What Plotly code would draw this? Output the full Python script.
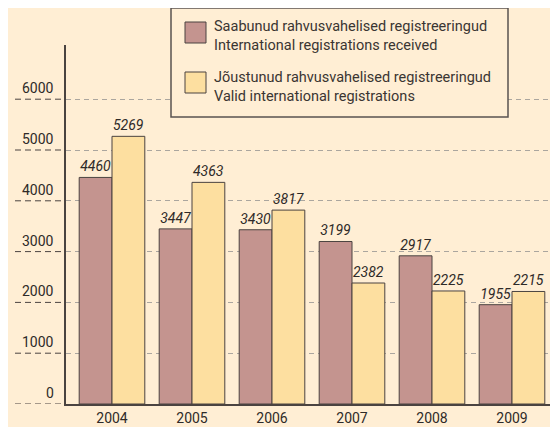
import plotly.graph_objects as go

years = ["2004", "2005", "2006", "2007", "2008", "2009"]
received = [4460, 3447, 3430, 3199, 2917, 1955]
valid = [5269, 4363, 3817, 2382, 2225, 2215]
name_received = ["Saabunud rahvusvahelised registreeringud", "International registrations received"]
name_valid = ["Jõustunud rahvusvahelised registreeringud", "Valid international registrations"]
y_ticks = [0, 1000, 2000, 3000, 4000, 5000, 6000]

BG = "#FFEED4"
RED = "#C4948F"
YEL = "#FDDFA0"
EDGE = "#4A4340"
TXT = "#2E2A28"
FONT = "Roboto, sans-serif"

# page has an 8px body margin: figure is 8px smaller than the window
W, H = 550, 419
L, R, T, B = 58, 0, 37, 23
pw = W - L - R
ph = H - T - B

def px_x(x):  # reference-window x -> paper
    return (x - 8 - L) / pw

def px_y(y):  # reference-window y -> paper
    return 1 - (y - 8 - T) / ph

fig = go.Figure()
fig.add_trace(go.Bar(
    x=years, y=received, name=" ".join(name_received),
    marker=dict(color=RED, line=dict(color=EDGE, width=1)),
    text=[str(v) for v in received], textposition="outside",
    textfont=dict(family=FONT, size=14, color=TXT, style="italic"),
    cliponaxis=False,
))
fig.add_trace(go.Bar(
    x=years, y=valid, name=" ".join(name_valid),
    marker=dict(color=YEL, line=dict(color=EDGE, width=1)),
    text=[str(v) for v in valid], textposition="outside",
    textfont=dict(family=FONT, size=14, color=TXT, style="italic"),
    cliponaxis=False,
))

shapes = []
annotations = []
for v in y_ticks:
    shapes.append(dict(type="line", xref="paper", yref="y",
                       x0=px_x(15), x1=px_x(63), y0=v, y1=v,
                       line=dict(color=EDGE, width=1, dash="6px,4px"), layer="above"))
    annotations.append(dict(xref="paper", yref="y", x=px_x(56), y=v,
                            text=str(v), showarrow=False, xanchor="right",
                            yanchor="middle", yshift=11,
                            font=dict(family=FONT, size=14, color=TXT)))

shapes.append(dict(type="rect", xref="paper", yref="paper",
                   x0=px_x(171), x1=px_x(508), y0=px_y(117), y1=px_y(8),
                   fillcolor=BG, line=dict(color="#5A5350", width=1.5), layer="above"))
for (c, y0, names) in [(RED, 22, name_received), (YEL, 72, name_valid)]:
    shapes.append(dict(type="rect", xref="paper", yref="paper",
                       x0=px_x(185), x1=px_x(206), y0=px_y(y0 + 21), y1=px_y(y0),
                       fillcolor=c, line=dict(color=EDGE, width=1), layer="above"))
    annotations.append(dict(xref="paper", yref="paper", x=px_x(212),
                            y=px_y(y0 + 14.5),
                            text="<br>".join(names), showarrow=False, xanchor="left",
                            yanchor="middle", align="left",
                            font=dict(family=FONT, size=14.5, color="#3A3532")))

fig.update_layout(
    width=W, height=H,
    margin=dict(l=L, r=R, t=T, b=B, pad=0),
    paper_bgcolor=BG, plot_bgcolor=BG,
    barmode="group", bargap=0.18, bargroupgap=0,
    showlegend=False,
    shapes=shapes, annotations=annotations,
    font=dict(family=FONT, size=14, color=TXT),
    xaxis=dict(range=[-0.575, 5.575], showgrid=False, showline=True,
               linecolor=EDGE, linewidth=1.5, ticks="", zeroline=False,
               tickfont=dict(family=FONT, size=14, color=TXT)),
    yaxis=dict(range=[0, 7067], tickvals=y_ticks[1:], showticklabels=False,
               showgrid=True, gridcolor="#ABA69F", griddash="5px,4px", gridwidth=1,
               showline=True, linecolor=EDGE, linewidth=1.5, zeroline=False, ticks=""),
)

fig.write_html("out.html")
